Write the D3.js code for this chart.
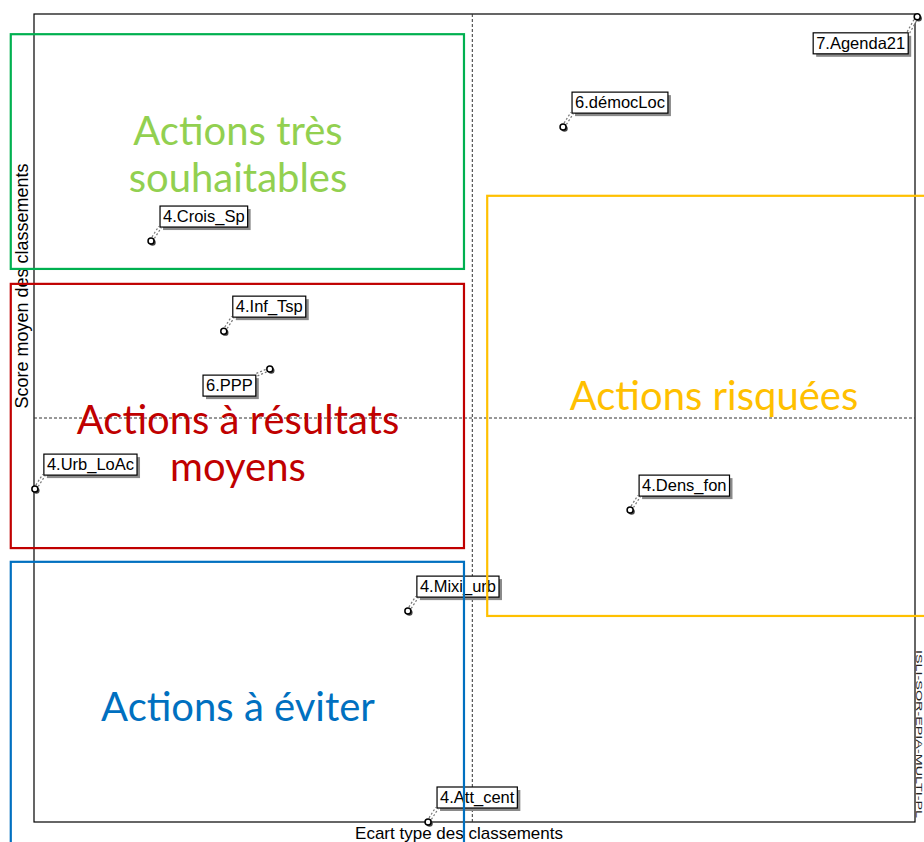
<!DOCTYPE html>
<html>
<head>
<meta charset="utf-8">
<script src="https://cdn.jsdelivr.net/npm/d3@7"></script>
<style>
  html, body { margin: 0; padding: 0; background: #fff; }
  svg { display: block; }
  .pt-label { font-family: "Liberation Sans", Arial, sans-serif; font-size: 16.5px; fill: #000; }
  .axis-title { font-family: "Liberation Sans", Arial, sans-serif; fill: #000; }
  .zone-title { font-family: Lato, "Open Sans", sans-serif; font-size: 40px; }
</style>
</head>
<body>
<div id="chart"></div>
<script>
// data (factorial plane: std-dev vs mean score of rankings)
const labels = ["7.Agenda21", "6.démocLoc", "4.Crois_Sp", "4.Inf_Tsp", "6.PPP",
                "4.Urb_LoAc", "4.Dens_fon", "4.Mixi_urb", "4.Att_cent"];
const ecartType = [1.015, 0.207, -0.733, -0.567, -0.462, -0.998, 0.360, -0.147, -0.101];
const scoreMoyen = [0.993, 0.720, 0.438, 0.215, 0.121, -0.176, -0.228, -0.478, -1.0];

// zones drawn over the plot (in data units)
const zoneNames = ["Actions très souhaitables", "Actions à résultats moyens", "Actions à éviter", "Actions risquées"];
const zoneX = [[-1.053, -0.019], [-1.053, -0.019], [-1.053, -0.019], [0.034, 1.06]];
const zoneY = [[0.950, 0.369], [0.332, -0.322], [-0.356, -1.1], [0.550, -0.490]];

// layout
const width = 924, height = 842;
const plot = { left: 34, right: 915, top: 14, bottom: 822 };
const zoneColors = ["#00b050", "#c00000", "#0070c0", "#ffc000"];
const zoneTextColors = ["#92d050", "#c00000", "#0070c0", "#ffc000"];
const zoneLines = [["Actions très", "souhaitables"], ["Actions à résultats", "moyens"], ["Actions à éviter"], ["Actions risquées"]];
const zoneTextPos = [[238, 131], [238, 420], [238, 707], [714, 396]]; // centres of first line (px)
// label box placement: "ne" = above right, "sw" = below left
const placement = { "6.PPP": "sw", "7.Agenda21": "sw" };

const svg = d3.select("#chart").append("svg")
  .attr("width", width).attr("height", height);

const x = d3.scaleLinear().domain([-1, 1.01]).range([plot.left, plot.right]);
const y = d3.scaleLinear().domain([-1, 1]).range([plot.bottom, plot.top]);

// frame
svg.append("rect")
  .attr("x", plot.left).attr("y", plot.top)
  .attr("width", plot.right - plot.left).attr("height", plot.bottom - plot.top)
  .attr("fill", "none").attr("stroke", "#000").attr("stroke-width", 1.2);

// dashed origin axes
svg.append("line")
  .attr("x1", x(0)).attr("x2", x(0)).attr("y1", plot.top).attr("y2", plot.bottom)
  .attr("stroke", "#333").attr("stroke-dasharray", "3,2").attr("stroke-width", 1);
svg.append("line")
  .attr("x1", plot.left).attr("x2", plot.right).attr("y1", y(0)).attr("y2", y(0))
  .attr("stroke", "#333").attr("stroke-dasharray", "3,2").attr("stroke-width", 1);

// axis titles
svg.append("text").attr("class", "axis-title")
  .attr("x", 459).attr("y", 839).attr("text-anchor", "middle")
  .attr("font-size", 17)
  .text("Ecart type des classements");
svg.append("text").attr("class", "axis-title")
  .attr("transform", "translate(28,286) rotate(-90)").attr("text-anchor", "middle")
  .attr("font-size", 18)
  .text("Score moyen des classements");

// watermark on right edge
svg.append("text")
  .attr("transform", "translate(916,650) rotate(90)")
  .attr("font-family", "Liberation Sans, Arial, sans-serif").attr("font-size", 9.5)
  .attr("textLength", 168).attr("lengthAdjust", "spacingAndGlyphs")
  .attr("fill", "#222")
  .text("ISLI-SOR-EPIA-MULTI-PL");

// points
const pts = labels.map((d, i) => ({ label: d, x: ecartType[i], y: scoreMoyen[i] }));

const g = svg.append("g");
pts.forEach((d) => {
  const px = x(d.x), py = y(d.y);
  const grp = g.append("g");
  const txt = grp.append("text").attr("class", "pt-label").text(d.label);
  const tw = txt.node().getComputedTextLength();
  const bw = tw + 6, bh = 21;
  let bx, by, cx, cy; // box corner & connector end
  if (placement[d.label] === "sw") {
    bx = px - 14 - bw; by = py + 6;
    if (d.label === "7.Agenda21") { bx = px - 9 - bw; by = py + 16; }
    cx = bx + bw; cy = by;
  } else {
    bx = px + 9; by = py - 35;
    cx = bx; cy = by + bh;
  }
  // connector (double dotted)
  grp.insert("line", "text")
    .attr("x1", px).attr("y1", py).attr("x2", cx).attr("y2", cy)
    .attr("stroke", "#777").attr("stroke-width", 4).attr("stroke-dasharray", "2,2");
  grp.insert("line", "text")
    .attr("x1", px).attr("y1", py).attr("x2", cx).attr("y2", cy)
    .attr("stroke", "#fff").attr("stroke-width", 1.6);
  // box shadow + box
  grp.insert("rect", "text")
    .attr("x", bx + 3).attr("y", by + 3).attr("width", bw).attr("height", bh)
    .attr("fill", "#8a8a8a");
  grp.insert("rect", "text")
    .attr("x", bx).attr("y", by).attr("width", bw).attr("height", bh)
    .attr("fill", "#fff").attr("stroke", "#000").attr("stroke-width", 1.2);
  txt.attr("x", bx + 3).attr("y", by + bh - 5);
  // marker
  grp.append("circle").attr("cx", px + 1.5).attr("cy", py + 1.5).attr("r", 3.2).attr("fill", "#444");
  grp.append("circle").attr("cx", px).attr("cy", py).attr("r", 3)
    .attr("fill", "#fff").attr("stroke", "#000").attr("stroke-width", 1.5);
});

// zones overlay
zoneNames.forEach((name, i) => {
  const [x0, x1] = zoneX[i], [y0, y1] = zoneY[i];
  svg.append("rect")
    .attr("x", x(x0)).attr("y", y(y0))
    .attr("width", x(x1) - x(x0)).attr("height", y(y1) - y(y0))
    .attr("fill", "none").attr("stroke", zoneColors[i]).attr("stroke-width", 2.2);
  const t = svg.append("text").attr("class", "zone-title")
    .attr("fill", zoneTextColors[i]).attr("text-anchor", "middle");
  zoneLines[i].forEach((line, j) => {
    t.append("tspan")
      .attr("x", zoneTextPos[i][0])
      .attr("y", zoneTextPos[i][1] + 14 + j * 47)
      .text(line);
  });
});
</script>
</body>
</html>
